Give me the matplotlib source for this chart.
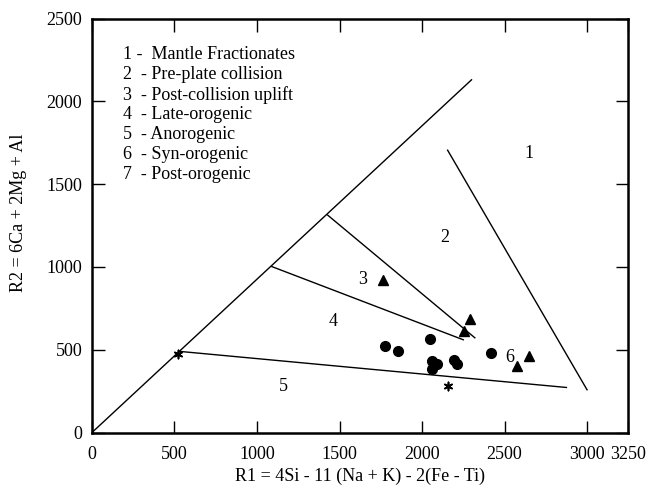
import matplotlib
matplotlib.use("Agg")
import matplotlib.pyplot as plt

plt.rcParams["font.family"] = ["Liberation Serif", "DejaVu Serif"]

# Discrimination boundaries (R1, R2 end points)
boundary_diag = ([0, 2300], [0, 2130])
boundary_5 = ([530, 2875], [490, 272])
boundary_4 = ([1090, 2250], [1002, 560])
boundary_3 = ([1428, 2320], [1313, 572])
boundary_1 = ([2155, 3000], [1705, 258])

# Samples
circle_r1 = [1776, 1855, 2048, 2059, 2089, 2059, 2196, 2214, 2416]
circle_r2 = [521, 490, 566, 430, 414, 384, 440, 416, 481]
triangle_r1 = [1766, 2291, 2255, 2578, 2647]
triangle_r2 = [921, 683, 612, 399, 460]
star_r1 = [523, 2156]
star_r2 = [476, 280]

# Field numbers and their positions
field_labels = ["1", "2", "3", "4", "5", "6"]
field_r1 = [2648, 2135, 1638, 1459, 1159, 2533]
field_r2 = [1684, 1178, 925, 672, 278, 456]

key_lines = [
    "1 -  Mantle Fractionates",
    "2  - Pre-plate collision",
    "3  - Post-collision uplift",
    "4  - Late-orogenic",
    "5  - Anorogenic",
    "6  - Syn-orogenic",
    "7  - Post-orogenic",
]

x_ticks = [0, 500, 1000, 1500, 2000, 2500, 3000, 3250]
y_ticks = [0, 500, 1000, 1500, 2000, 2500]

fig = plt.figure(figsize=(6.46, 4.98), dpi=100)
ax = fig.add_axes([0.1424, 0.1315, 0.8302, 0.8313])

for xs, ys in (boundary_diag, boundary_5, boundary_4, boundary_3, boundary_1):
    ax.plot(xs, ys, color="black", lw=1.0)

ax.plot(circle_r1, circle_r2, "o", color="black", ms=7, ls="none")
ax.plot(triangle_r1, triangle_r2, "^", color="black", ms=7, ls="none")
ax.scatter(star_r1, star_r2, marker=(6, 2, 0), color="black", s=35, lw=1.2, zorder=3)

for lab, x, y in zip(field_labels, field_r1, field_r2):
    ax.text(x, y, lab, ha="center", va="center", fontsize=13)

for i, line in enumerate(key_lines):
    ax.text(0.058, 0.912 - i * 0.0483, line, transform=ax.transAxes,
            ha="left", va="center", fontsize=13)

ax.set_xlim(0, 3250)
ax.set_ylim(0, 2500)
ax.set_xticks(x_ticks)
ax.set_yticks(y_ticks)
ax.set_xticklabels([str(t) for t in x_ticks])
ax.set_yticklabels([str(t) for t in y_ticks])
ax.tick_params(direction="in", length=9, width=1.0, labelsize=13,
               top=True, right=True, pad=7)
ax.tick_params(axis="x", pad=10)
for sp in ax.spines.values():
    sp.set_linewidth(1.8)

ax.set_xlabel("R1 = 4Si - 11 (Na + K) - 2(Fe - Ti)", fontsize=13)
ax.xaxis.set_label_coords(0.5, -0.085)
ax.set_ylabel("R2 = 6Ca + 2Mg + Al", fontsize=13)
ax.yaxis.set_label_coords(-0.121, 0.53)

fig.savefig("out.png", dpi=100)
